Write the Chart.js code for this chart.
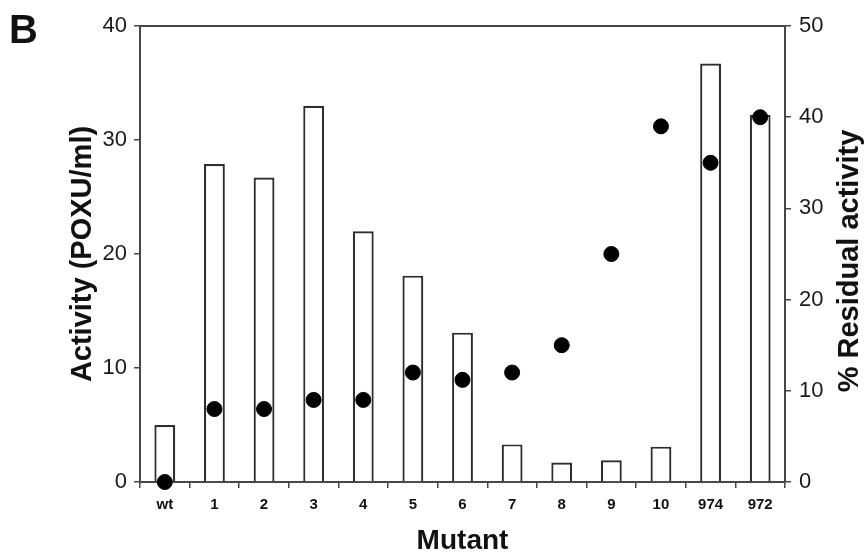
<!DOCTYPE html>
<html>
<head>
<meta charset="utf-8">
<title>Mutant activity</title>
<script src="https://cdn.jsdelivr.net/npm/chart.js@4.4.1/dist/chart.umd.min.js"></script>
<style>
  body { margin: 0; background: #ffffff; }
  #contenedor { width: 864px; height: 555px; position: relative; }
</style>
</head>
<body>
<div id="contenedor">
  <canvas id="grafico"></canvas>
</div>
<script>
// Datos
var mutantes = ["wt", "1", "2", "3", "4", "5", "6", "7", "8", "9", "10", "974", "972"];
var actividad = [5.0, 27.9, 26.7, 33.0, 22.0, 18.1, 13.1, 3.3, 1.7, 1.9, 3.1, 36.7, 32.2];
var residual = [0, 8, 8, 9, 9, 12, 11.2, 12, 15, 25, 39, 35, 40];
var ticksActividad = [0, 10, 20, 30, 40];
var ticksResidual = [0, 10, 20, 30, 40, 50];

var fuente = "'Liberation Sans', Arial, Helvetica, sans-serif";
var gris = "#474747";

// Marco superior, la letra B y el título del eje derecho
var extras = {
  id: "extras",
  afterDraw: function (chart) {
    var ctx = chart.ctx;
    var area = chart.chartArea;
    ctx.save();
    ctx.strokeStyle = gris;
    ctx.lineWidth = 2;
    ctx.beginPath();
    ctx.moveTo(area.left, area.top);
    ctx.lineTo(area.right, area.top);
    ctx.stroke();

    ctx.fillStyle = "#111111";
    ctx.font = "bold 40px " + fuente;
    ctx.textAlign = "left";
    ctx.textBaseline = "alphabetic";
    ctx.fillText("B", 9, 43);

    ctx.translate(850, 261);
    ctx.rotate(-Math.PI / 2);
    ctx.font = "bold 29px " + fuente;
    ctx.textAlign = "center";
    ctx.textBaseline = "middle";
    ctx.fillText("% Residual activity", 0, 0);
    ctx.restore();
  }
};

function cargaGrafico() {
  var datos = {
    labels: mutantes,
    datasets: [{
      type: "line",
      label: "% Residual activity",
      data: residual,
      yAxisID: "y1",
      showLine: false,
      pointRadius: 7.5,
      pointBackgroundColor: "#000000",
      pointBorderColor: "#000000",
      clip: false,
      order: 0
    }, {
      type: "bar",
      label: "Activity",
      data: actividad,
      yAxisID: "y",
      backgroundColor: "#ffffff",
      borderColor: "#2e2e2e",
      borderWidth: 2.2,
      barPercentage: 0.42,
      categoryPercentage: 1,
      order: 1
    }]
  };

  var config = {
    type: "bar",
    data: datos,
    plugins: [extras],
    options: {
      responsive: true,
      maintainAspectRatio: false,
      animation: false,
      layout: { padding: { top: 26, left: 0, right: 0, bottom: 0 } },
      plugins: {
        legend: { display: false },
        tooltip: { enabled: false }
      },
      scales: {
        x: {
          offset: true,
          afterFit: function (s) { s.height = 73; },
          grid: { offset: true, drawOnChartArea: false, tickLength: 6, color: gris, lineWidth: 1.5 },
          border: { color: gris, width: 2 },
          ticks: { color: "#111111", padding: 8, font: { family: fuente, size: 15, weight: "bold" } },
          title: {
            display: true,
            text: "Mutant",
            color: "#111111",
            padding: 0,
            font: { family: fuente, size: 28, weight: "bold", lineHeight: 1 }
          }
        },
        y: {
          position: "left",
          min: 0,
          max: 40,
          afterFit: function (s) { s.width = 140; },
          afterBuildTicks: function (s) { s.ticks = ticksActividad.map(function (v) { return { value: v }; }); },
          grid: { drawOnChartArea: false, tickLength: 6, color: gris, lineWidth: 1.5 },
          border: { color: gris, width: 2 },
          ticks: { color: "#1a1a1a", padding: 7, font: { family: fuente, size: 22 } },
          title: {
            display: true,
            text: "Activity (POXU/ml)",
            color: "#111111",
            padding: { top: 66 },
            font: { family: fuente, size: 29, weight: "bold" }
          }
        },
        y1: {
          position: "right",
          min: 0,
          max: 50,
          afterFit: function (s) { s.width = 79; },
          afterBuildTicks: function (s) { s.ticks = ticksResidual.map(function (v) { return { value: v }; }); },
          grid: { drawOnChartArea: false, tickLength: 6, color: gris, lineWidth: 1.5 },
          border: { color: gris, width: 2 },
          ticks: { color: "#1a1a1a", padding: 8, font: { family: fuente, size: 22 } }
        }
      }
    }
  };

  var ctx = document.getElementById("grafico").getContext("2d");
  new Chart(ctx, config);
}

document.addEventListener("DOMContentLoaded", function () {
  cargaGrafico();
});
</script>
</body>
</html>
